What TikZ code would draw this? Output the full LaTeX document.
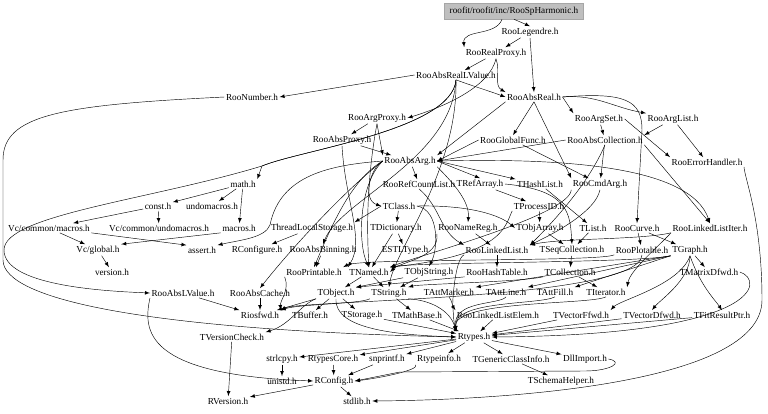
\documentclass[tikz,border=0pt]{standalone}
\usepackage{fontspec}
\setmainfont{Liberation Serif}
\usetikzlibrary{arrows}

\begin{document}
\begin{tikzpicture}[>=latex, x=0.75pt, y=-0.75pt,
  hdr/.style={inner sep=1pt, font=\fontsize{6.9}{8}\selectfont},
  root/.style={hdr, fill=black!25, draw=black!35, minimum width=104pt, minimum height=12pt},
  dep/.style={->, line width=0.33pt}]
  \useasboundingbox (0,0) rectangle (768,414);
  \node[root] (sph) at (514,11) {roofit/roofit/inc/RooSpHarmonic.h};
  \node[hdr] (leg) at (530,32) {RooLegendre.h};
  \node[hdr] (rproxy) at (496,53) {RooRealProxy.h};
  \node[hdr] (arlv) at (456,75) {RooAbsRealLValue.h};
  \node[hdr] (num) at (252,97) {RooNumber.h};
  \node[hdr] (areal) at (534,97) {RooAbsReal.h};
  \node[hdr] (aproxy) at (377,118) {RooArgProxy.h};
  \node[hdr] (aset) at (599,119) {RooArgSet.h};
  \node[hdr] (alist) at (673,119) {RooArgList.h};
  \node[hdr] (absproxy) at (342,140) {RooAbsProxy.h};
  \node[hdr] (gfunc) at (513,140) {RooGlobalFunc.h};
  \node[hdr] (acoll) at (605,140) {RooAbsCollection.h};
  \node[hdr] (absarg) at (410,161) {RooAbsArg.h};
  \node[hdr] (errh) at (707,162) {RooErrorHandler.h};
  \node[hdr] (math) at (243,184) {math.h};
  \node[hdr] (rcl) at (419,184) {RooRefCountList.h};
  \node[hdr] (trefarr) at (480,184) {TRefArray.h};
  \node[hdr] (thash) at (540,184) {THashList.h};
  \node[hdr] (cmdarg) at (600,184) {RooCmdArg.h};
  \node[hdr] (const) at (158,206) {const.h};
  \node[hdr] (undo) at (212,206) {undomacros.h};
  \node[hdr] (tclass) at (399,206) {TClass.h};
  \node[hdr] (tpid) at (539,206) {TProcessID.h};
  \node[hdr] (vcmac) at (49,228) {Vc/common/macros.h};
  \node[hdr] (vcundo) at (159,228) {Vc/common/undomacros.h};
  \node[hdr] (macros) at (239,228) {macros.h};
  \node[hdr] (tls) at (312,228) {ThreadLocalStorage.h};
  \node[hdr] (tdict) at (396,228) {TDictionary.h};
  \node[hdr] (namereg) at (468,228) {RooNameReg.h};
  \node[hdr] (tobjarr) at (540,228) {TObjArray.h};
  \node[hdr] (tlist) at (593,228) {TList.h};
  \node[hdr] (curve) at (637,228) {RooCurve.h};
  \node[hdr] (lliter) at (710,228) {RooLinkedListIter.h};
  \node[hdr] (vcglob) at (98,250) {Vc/global.h};
  \node[hdr] (assert) at (202,250) {assert.h};
  \node[hdr] (rconfigure) at (257,250) {RConfigure.h};
  \node[hdr] (absbin) at (323,250) {RooAbsBinning.h};
  \node[hdr] (estl) at (405,250) {ESTLType.h};
  \node[hdr] (llist) at (497,250) {RooLinkedList.h};
  \node[hdr] (tseq) at (572,250) {TSeqCollection.h};
  \node[hdr] (plotable) at (642,250) {RooPlotable.h};
  \node[hdr] (tgraph) at (690,250) {TGraph.h};
  \node[hdr] (version) at (112,272) {version.h};
  \node[hdr] (printable) at (314,272) {RooPrintable.h};
  \node[hdr] (tnamed) at (369,272) {TNamed.h};
  \node[hdr] (tobjstr) at (429,272) {TObjString.h};
  \node[hdr] (hashtab) at (497,272) {RooHashTable.h};
  \node[hdr] (tcoll) at (570,272) {TCollection.h};
  \node[hdr] (matd) at (709,272) {TMatrixDfwd.h};
  \node[hdr] (abslv) at (183,293) {RooAbsLValue.h};
  \node[hdr] (abscache) at (260,293) {RooAbsCache.h};
  \node[hdr] (tobject) at (336,293) {TObject.h};
  \node[hdr] (tstring) at (389,293) {TString.h};
  \node[hdr] (attmark) at (449,292) {TAttMarker.h};
  \node[hdr] (attline) at (506,292) {TAttLine.h};
  \node[hdr] (attfill) at (555,292) {TAttFill.h};
  \node[hdr] (titer) at (606,292) {TIterator.h};
  \node[hdr] (riosfwd) at (260,315) {Riosfwd.h};
  \node[hdr] (tbuffer) at (310,315) {TBuffer.h};
  \node[hdr] (tstorage) at (362,315) {TStorage.h};
  \node[hdr] (mathbase) at (417,315) {TMathBase.h};
  \node[hdr] (llelem) at (498,315) {RooLinkedListElem.h};
  \node[hdr] (vecf) at (581,315) {TVectorFfwd.h};
  \node[hdr] (vecd) at (652,315) {TVectorDfwd.h};
  \node[hdr] (fitres) at (722,315) {TFitResultPtr.h};
  \node[hdr] (tvcheck) at (232,337) {TVersionCheck.h};
  \node[hdr] (rtypes) at (474,337) {Rtypes.h};
  \node[hdr] (strlcpy) at (282,359) {strlcpy.h};
  \node[hdr] (rtcore) at (333,359) {RtypesCore.h};
  \node[hdr] (snprintf) at (387,359) {snprintf.h};
  \node[hdr] (rtinfo) at (439,359) {Rtypeinfo.h};
  \node[hdr] (genci) at (511,359) {TGenericClassInfo.h};
  \node[hdr] (dllimp) at (585,359) {DllImport.h};
  \node[hdr] (unistd) at (282,381) {unistd.h};
  \node[hdr] (rconfig) at (334,381) {RConfig.h};
  \node[hdr] (schema) at (561,381) {TSchemaHelper.h};
  \node[hdr] (rversion) at (228,401) {RVersion.h};
  \node[hdr] (stdlib) at (357,401) {stdlib.h};

  \draw[dep] (sph.south) -- (leg.north);
  \draw[dep] (sph.south) ++(-12,0) to[out=250,in=95] (rproxy.north west);
  \draw[dep] (leg) -- (rproxy);
  \draw[dep] (leg.south) -- (areal.north);
  \draw[dep] (rproxy) -- (arlv);
  \draw[dep] (rproxy.south) to[out=-70,in=150] (areal.north west);
  \draw[dep] (rproxy.south) .. controls (490,85) and (450,105) .. (aproxy.east);
  \draw[dep] (arlv.west) -- (num.east);
  \draw[dep] (arlv.south) to[out=-20,in=160] (areal.west);
  \draw[dep] (arlv.south) .. controls (452,130) and (300,150) .. (262,166) -- (math.north east);
  \draw[dep] (arlv.south) .. controls (452,130) and (300,150) .. (262,166) .. controls (150,200) and (4,215) .. (4,250) .. controls (4,285) and (100,291) .. (abslv.west);
  \draw[dep] (arlv.south) .. controls (458,170) and (395,250) .. (tstring.north);
  \draw[dep] (arlv.south) .. controls (452,160) and (340,200) .. (absbin.north);
  \draw[dep] (num.west) .. controls (60,105) and (3,115) .. (3,160) -- (3,260) .. controls (3,300) and (150,330) .. (rtypes.west);
  \draw[dep] (areal.east) -- (aset.north west);
  \draw[dep] (areal.east) to[out=5,in=170] (alist.north west);
  \draw[dep] (areal.south) -- (gfunc.north);
  \draw[dep] (areal.south west) -- (absarg.north east);
  \draw[dep] (areal.south) -- (cmdarg.north west);
  \draw[dep] (areal.east) .. controls (625,92) and (642,100) .. (642,130) -- (curve.north);
  \draw[dep] (aproxy) -- (absproxy);
  \draw[dep] (aproxy.south) -- (absarg.north west);
  \draw[dep] (aproxy.south) .. controls (372,150) and (365,200) .. (tnamed.north);
  \draw[dep] (absproxy) -- (absarg);
  \draw[dep] (absproxy.south) .. controls (345,200) and (365,240) .. (tnamed.north west);
  \draw[dep] (aset) -- (acoll);
  \draw[dep] (aset.east) -- (errh.north west);
  \draw[dep] (alist) -- (acoll.north east);
  \draw[dep] (alist) -- (errh);
  \draw[dep] (gfunc.west) -- (absarg.east);
  \draw[dep] (gfunc) -- (cmdarg);
  \draw[dep] (acoll.west) -- (absarg.east);
  \draw[dep] (acoll) -- (cmdarg);
  \draw[dep] (acoll.south) .. controls (590,180) and (560,215) .. (llist.north east);
  \draw[dep] (acoll.south east) -- (lliter.north);
  \draw[dep] (errh.south east) .. controls (745,180) and (762,220) .. (762,300) .. controls (762,385) and (500,400) .. (stdlib.east);
  \draw[dep] (absarg) -- (rcl);
  \draw[dep] (absarg.east) -- (trefarr.north);
  \draw[dep] (absarg.east) -- (thash.north west);
  \draw[dep] (absarg.west) .. controls (370,168) and (362,200) .. (tclass.west);
  \draw[dep] (absarg.south east) .. controls (450,180) and (470,200) .. (namereg.north);
  \draw[dep] (absarg.west) .. controls (358,185) and (358,245) .. (tnamed.north);
  \draw[dep] (absarg.west) .. controls (330,165) and (280,175) .. (270,225) .. controls (265,238) and (240,240) .. (assert.north east);
  \draw[dep] (absarg.west) .. controls (345,190) and (290,250) .. (abscache.north);
  \draw[dep] (absarg.west) .. controls (350,180) and (330,230) .. (printable.north);
  \draw[dep] (absarg.east) .. controls (560,158) and (690,165) .. (lliter.north);
  \draw[dep] (math) -- (const);
  \draw[dep] (math) -- (undo);
  \draw[dep] (math) -- (macros);
  \draw[dep] (rcl.south) to[out=-40,in=150] (llist.north west);
  \draw[dep] (trefarr.east) .. controls (570,190) and (570,215) .. (tseq.north);
  \draw[dep] (trefarr) -- (tpid);
  \draw[dep] (thash) -- (tlist);
  \draw[dep] (cmdarg.south west) .. controls (570,215) and (420,255) .. (tnamed.north east);
  \draw[dep] (cmdarg.south) .. controls (595,215) and (540,240) .. (llist.north east);
  \draw[dep] (const) -- (vcmac);
  \draw[dep] (const) -- (vcundo);
  \draw[dep] (tclass) -- (tdict);
  \draw[dep] (tclass.east) .. controls (470,205) and (500,215) .. (tobjarr.west);
  \draw[dep] (tclass.east) .. controls (440,210) and (438,250) .. (tobjstr.north);
  \draw[dep] (tclass.west) -- (tls.north east);
  \draw[dep] (tpid) -- (tobjarr);
  \draw[dep] (tpid.south west) .. controls (505,225) and (505,255) .. (tnamed.north east);
  \draw[dep] (vcmac) -- (vcglob);
  \draw[dep] (vcmac.south east) -- (assert.north west);
  \draw[dep] (macros.south west) -- (vcglob.north east);
  \draw[dep] (tls) -- (rconfigure);
  \draw[dep] (tdict) -- (estl);
  \draw[dep] (tdict) -- (tnamed);
  \draw[dep] (namereg.south west) .. controls (440,258) and (400,262) .. (tnamed.east);
  \draw[dep] (namereg) -- (llist);
  \draw[dep] (tobjarr) -- (tseq);
  \draw[dep] (tlist) -- (tseq);
  \draw[dep] (curve) -- (plotable);
  \draw[dep] (curve) -- (tgraph);
  \draw[dep] (lliter.south west) .. controls (660,245) and (630,270) .. (titer.north east);
  \draw[dep] (lliter.south west) .. controls (640,240) and (560,238) .. (llist.north east);
  \draw[dep] (vcglob) -- (version);
  \draw[dep] (absbin) -- (printable);
  \draw[dep] (llist) -- (hashtab);
  \draw[dep] (llist.south west) .. controls (455,258) and (452,305) .. (llelem.north west);
  \draw[dep] (tseq) -- (tcoll);
  \draw[dep] (plotable.south west) .. controls (600,262) and (360,258) .. (printable.north east);
  \draw[dep] (plotable.south) .. controls (640,300) and (300,300) .. (riosfwd.north east);
  \draw[dep] (tgraph.south west) .. controls (640,263) and (420,262) .. (tnamed.north east);
  \draw[dep] (tgraph.south west) -- (attmark.north east);
  \draw[dep] (tgraph.south west) -- (attline.north east);
  \draw[dep] (tgraph.south west) -- (attfill.north east);
  \draw[dep] (tgraph.south) .. controls (680,285) and (620,300) .. (vecf.north east);
  \draw[dep] (tgraph.south) .. controls (690,280) and (660,300) .. (vecd.north);
  \draw[dep] (tgraph.south) .. controls (700,285) and (715,300) .. (fitres.north);
  \draw[dep] (tgraph) -- (matd);
  \draw[dep] (printable.south west) .. controls (290,290) and (280,300) .. (riosfwd.north east);
  \draw[dep] (tnamed) -- (tobject);
  \draw[dep] (tnamed) -- (tstring);
  \draw[dep] (tobjstr.south west) -- (tobject.north east);
  \draw[dep] (tobjstr) -- (tstring);
  \draw[dep] (hashtab.south west) -- (tobject.north east);
  \draw[dep] (tcoll) -- (titer);
  \draw[dep] (tcoll.south west) .. controls (520,282) and (420,284) .. (tstring.north east);
  \draw[dep] (matd.east) .. controls (765,280) and (762,335) .. (rtypes.east);
  \draw[dep] (abslv) -- (riosfwd.north west);
  \draw[dep] (abslv.south west) .. controls (143,330) and (143,375) .. (rconfig.west);
  \draw[dep] (abscache) -- (riosfwd);
  \draw[dep] (tobject.south) .. controls (334,330) and (400,335) .. (rtypes.west);
  \draw[dep] (tobject) -- (tstorage);
  \draw[dep] (tobject.south west) .. controls (300,305) and (290,325) .. (tvcheck.north east);
  \draw[dep] (tobject) -- (riosfwd);
  \draw[dep] (tobject) -- (tbuffer);
  \draw[dep] (tstring) -- (mathbase);
  \draw[dep] (tstring.south west) .. controls (360,304) and (300,304) .. (riosfwd.north east);
  \draw[dep] (tstring.south east) .. controls (430,300) and (450,310) .. (rtypes.north west);
  \draw[dep] (attmark.south) .. controls (455,305) and (452,315) .. (rtypes.north west);
  \draw[dep] (attline.south) .. controls (500,305) and (452,300) .. (rtypes.north west);
  \draw[dep] (attfill.south) .. controls (540,305) and (452,300) .. (rtypes.north west);
  \draw[dep] (titer.south) .. controls (590,305) and (452,300) .. (rtypes.north west);
  \draw[dep] (tstorage) -- (rtypes);
  \draw[dep] (mathbase) -- (rtypes);
  \draw[dep] (llelem) -- (rtypes);
  \draw[dep] (vecf) -- (rtypes);
  \draw[dep] (vecd) -- (rtypes);
  \draw[dep] (fitres) -- (rtypes);
  \draw[dep] (tvcheck) -- (rversion);
  \draw[dep] (rtypes) -- (strlcpy);
  \draw[dep] (rtypes) -- (rtcore);
  \draw[dep] (rtypes) -- (snprintf);
  \draw[dep] (rtypes) -- (rtinfo);
  \draw[dep] (rtypes) -- (genci);
  \draw[dep] (rtypes) -- (dllimp);
  \draw[dep] (strlcpy) -- (unistd);
  \draw[dep] (rtcore) -- (rconfig);
  \draw[dep] (snprintf) -- (rconfig);
  \draw[dep] (rtinfo.south west) .. controls (420,370) and (380,378) .. (rconfig.east);
  \draw[dep] (genci) -- (schema);
  \draw[dep] (dllimp.east) .. controls (625,362) and (610,371) .. (585,371) -- (400,372) -- (rconfig.east);
  \draw[dep] (rconfig) -- (rversion);
  \draw[dep] (rconfig) -- (stdlib);
\end{tikzpicture}
\end{document}
